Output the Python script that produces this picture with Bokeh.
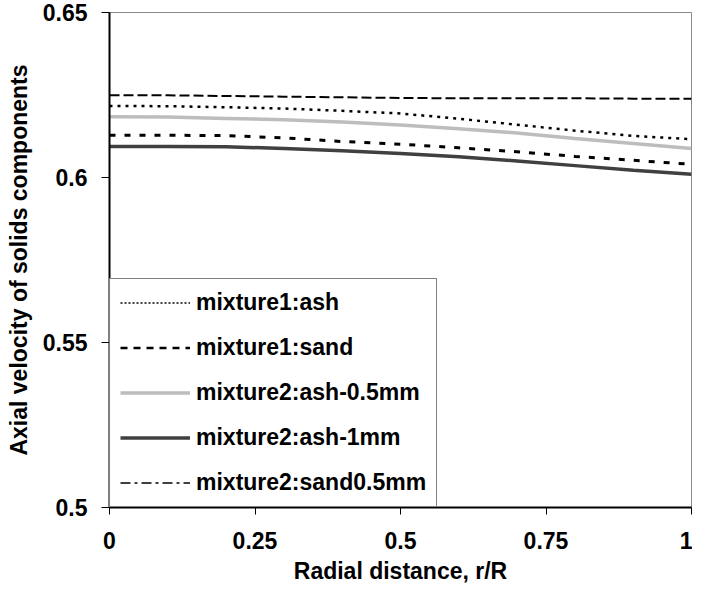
from bokeh.plotting import figure
from bokeh.models import Range1d, FixedTicker, Legend, LegendItem, ColumnDataSource
from bokeh.embed import file_html
from bokeh.resources import INLINE

x = [0.0, 0.1, 0.2, 0.3, 0.4, 0.5, 0.6, 0.7, 0.8, 0.9, 1.0]
mix1_ash = [0.6217, 0.6216, 0.6213, 0.6209, 0.6202, 0.6194, 0.6178, 0.6160, 0.6142, 0.6126, 0.6116]
mix1_sand = [0.6128, 0.6128, 0.6127, 0.6120, 0.6109, 0.6101, 0.6090, 0.6078, 0.6064, 0.6052, 0.6040]
mix2_ash05 = [0.6184, 0.6183, 0.6179, 0.6175, 0.6168, 0.6159, 0.6148, 0.6135, 0.6118, 0.6103, 0.6088]
mix2_ash1 = [0.6094, 0.6094, 0.6093, 0.6088, 0.6081, 0.6073, 0.6063, 0.6050, 0.6036, 0.6022, 0.6010]
mix2_sand05 = [0.6249, 0.6249, 0.6247, 0.6245, 0.6243, 0.6241, 0.6240, 0.6240, 0.6240, 0.6239, 0.6239]

labels = ["mixture1:ash", "mixture1:sand", "mixture2:ash-0.5mm", "mixture2:ash-1mm", "mixture2:sand0.5mm"]
x_ticks = [0, 0.25, 0.5, 0.75, 1]
x_tick_labels = ["0", "0.25", "0.5", "0.75", "1"]
y_ticks = [0.5, 0.55, 0.6, 0.65]
y_tick_labels = ["0.5", "0.55", "0.6", "0.65"]

FONT = "Liberation Sans"
FS = "23px"

p = figure(width=692, height=592, output_backend="svg", toolbar_location=None,
           x_range=Range1d(0, 1), y_range=Range1d(0.5, 0.65),
           min_border_left=109, min_border_right=1, min_border_top=12, min_border_bottom=85)
p.xgrid.visible = False
p.ygrid.visible = False
p.outline_line_color = "#888888"
p.outline_line_width = 1
p.background_fill_color = "white"
p.border_fill_color = "white"

styles = [
    dict(color="black", line_width=2.5, line_dash="3 5"),
    dict(color="black", line_width=3, line_dash="6 9"),
    dict(color="#bdbdbd", line_width=3.5, line_dash="solid"),
    dict(color="#404040", line_width=3.5, line_dash="solid"),
    dict(color="black", line_width=2, line_dash="10 4"),
]
legend_styles = [
    dict(color="black", line_width=1.5, line_dash="2 2"),
    dict(color="black", line_width=2.5, line_dash="7 6"),
    dict(color="#bdbdbd", line_width=3.5, line_dash="solid"),
    dict(color="#404040", line_width=3.5, line_dash="solid"),
    dict(color="black", line_width=1.5, line_dash="10 4 3 4"),
]
series = [mix1_ash, mix1_sand, mix2_ash05, mix2_ash1, mix2_sand05]

items = []
for ys, st, lst, lab in zip(series, styles, legend_styles, labels):
    p.line(x, ys, line_color=st["color"], line_width=st["line_width"], line_dash=st["line_dash"])
    # legend-only renderer (single point outside the visible range draws nothing in the plot)
    r = p.line(x="x", y="y", source=ColumnDataSource(dict(x=[-10.0], y=[0.0])),
               line_color=lst["color"], line_width=lst["line_width"], line_dash=lst["line_dash"])
    items.append(LegendItem(label=lab, renderers=[r]))

legend = Legend(items=items, location="bottom_left", margin=0, padding=10,
                spacing=18, glyph_width=70, glyph_height=27, label_height=27,
                label_standoff=6, label_text_font=FONT, label_text_font_style="bold",
                label_text_font_size=FS, label_text_color="black",
                border_line_color="black", border_line_width=1,
                background_fill_color="white", background_fill_alpha=1)
p.add_layout(legend, "center")

for ax in (p.xaxis[0], p.yaxis[0]):
    ax.axis_line_color = "black"
    ax.axis_line_width = 2
    ax.major_tick_line_color = "black"
    ax.major_tick_line_width = 1
    ax.major_tick_in = 0
    ax.minor_tick_line_color = None
    ax.major_label_text_font = FONT
    ax.major_label_text_font_style = "bold"
    ax.major_label_text_font_size = FS
    ax.major_label_text_color = "black"
    ax.axis_label_text_font = FONT
    ax.axis_label_text_font_style = "bold"
    ax.axis_label_text_font_size = FS
    ax.axis_label_text_color = "black"

p.xaxis.ticker = FixedTicker(ticks=x_ticks)
p.xaxis.major_label_overrides = dict(zip(x_ticks, x_tick_labels))
p.yaxis.ticker = FixedTicker(ticks=y_ticks)
p.yaxis.major_label_overrides = dict(zip(y_ticks, y_tick_labels))
p.xaxis.major_tick_out = 7
p.yaxis.major_tick_out = 8
p.xaxis.major_label_standoff = 17
p.yaxis.major_label_standoff = 14
p.xaxis.axis_label = "Radial distance, r/R"
p.yaxis.axis_label = "Axial velocity of solids components"
p.xaxis.axis_label_standoff = 6
p.yaxis.axis_label_standoff = 8

open("out.html", "w").write(file_html(p, INLINE))
